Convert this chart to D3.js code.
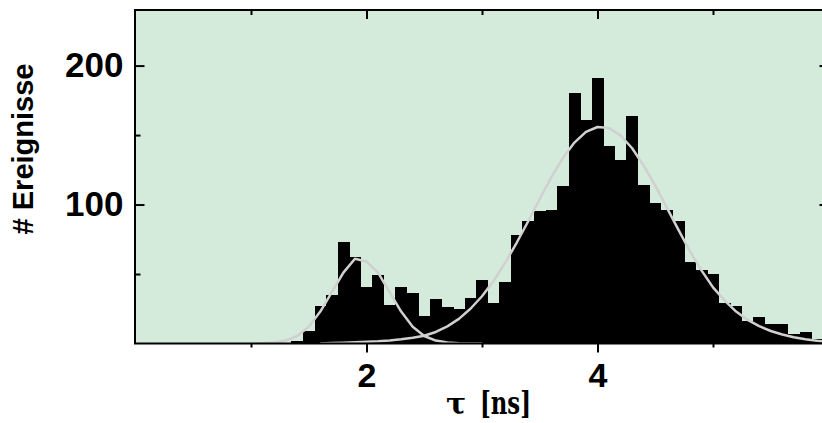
<!DOCTYPE html>
<html>
<head>
<meta charset="utf-8">
<script src="https://cdn.jsdelivr.net/npm/d3@7"></script>
<style>
  body { margin: 0; background: #fff; }
  svg { display: block; }
</style>
</head>
<body>
<script>
var width = 822,
    height = 423;

// histogram: bin centres (ns) and counts
var binCenters = [1.4, 1.5, 1.6, 1.7, 1.8, 1.9, 2.0, 2.1, 2.2, 2.3, 2.4, 2.5, 2.6, 2.7, 2.8, 2.9,
                  3.0, 3.1, 3.2, 3.3, 3.4, 3.5, 3.6, 3.7, 3.8, 3.9, 4.0, 4.1, 4.2, 4.3, 4.4, 4.5,
                  4.6, 4.7, 4.8, 4.9, 5.0, 5.1, 5.2, 5.3, 5.4, 5.5, 5.6, 5.7, 5.8, 5.9];
var counts = [2, 9, 27, 35, 73, 62, 41, 49, 28, 41, 36, 20, 32, 26, 25, 33,
              46, 29, 44, 78, 88, 95, 96, 113, 180, 161, 191, 142, 132, 164, 114, 101,
              96, 88, 59, 53, 50, 29, 27, 16, 19, 14, 14, 7, 8, 3];
var binWidth = 0.1;

// fit curves
var fit1X = [1.0, 1.1, 1.2, 1.3, 1.4, 1.5, 1.6, 1.7, 1.8, 1.9, 2.0, 2.1, 2.2, 2.3, 2.4, 2.5, 2.6, 2.7, 2.8, 2.9, 3.0];
var fit1Y = [0, 0.2, 0.7, 2.1, 5.4, 12, 23, 37, 51, 61, 59, 51, 37, 23, 12, 5.4, 2.1, 0.7, 0.2, 0, 0];
var fit2X = [1.6, 1.7, 1.8, 1.9, 2.0, 2.1, 2.2, 2.3, 2.4, 2.5, 2.6, 2.7, 2.8, 2.9, 3.0, 3.1, 3.2, 3.3,
             3.4, 3.5, 3.6, 3.7, 3.8, 3.9, 4.0, 4.1, 4.2, 4.3, 4.4, 4.5, 4.6, 4.7, 4.8, 4.9, 5.0,
             5.1, 5.2, 5.3, 5.4, 5.5, 5.6, 5.7, 5.8, 5.9, 6.0];
var fit2Y = [0, 0.3, 0.6, 0.9, 1.2, 1.6, 2.2, 3.0, 4.1, 5.6, 8.3, 12.3, 17.7, 25, 34, 45, 58, 72.5,
             88, 104, 119.6, 133.4, 144.6, 152.3, 155.8, 155, 149.7, 140.5, 128, 113.6, 97.8, 82, 66.5, 52.6, 40.4,
             31, 23, 17, 12.5, 9, 6.5, 4.5, 3, 2, 1.3];

var xTicksMajor = [2, 4], xTicksMinor = [1, 3, 5];
var yTicksMajor = [100, 200], yTicksMinor = [50, 150];

var plotLeft = 135.5, plotRight = 828.5, plotTop = 10, plotBottom = 343.5;

var x = d3.scaleLinear().domain([0, 6]).range([plotLeft, plotRight]);
var y = d3.scaleLinear().domain([0, 240]).range([plotBottom, plotTop]);

var svg = d3.select("body").append("svg")
    .attr("width", width)
    .attr("height", height);

svg.append("defs").append("clipPath").attr("id", "plotclip")
  .append("rect")
    .attr("x", plotLeft).attr("y", plotTop)
    .attr("width", plotRight - plotLeft).attr("height", plotBottom - plotTop);

svg.append("rect")
    .attr("x", plotLeft).attr("y", plotTop)
    .attr("width", plotRight - plotLeft).attr("height", plotBottom - plotTop)
    .style("fill", "#d4ebdb");

var bins = binCenters.map(function (c, i) { return {c: c, n: counts[i]}; });

svg.append("g").attr("clip-path", "url(#plotclip)")
  .selectAll("rect").data(bins)
  .enter().append("rect")
    .attr("x", function (d) { return x(d.c - binWidth / 2); })
    .attr("width", function (d) { return x(d.c + binWidth / 2) - x(d.c - binWidth / 2) + 0.4; })
    .attr("y", function (d) { return y(d.n); })
    .attr("height", function (d) { return y(0) - y(d.n); })
    .attr("shape-rendering", "crispEdges")
    .style("fill", "#000");

var line = d3.line()
    .x(function (d) { return x(d[0]); })
    .y(function (d) { return y(d[1]); });

var curves = [d3.zip(fit1X, fit1Y), d3.zip(fit2X, fit2Y)];
svg.append("g").attr("clip-path", "url(#plotclip)")
  .selectAll("path").data(curves)
  .enter().append("path")
    .attr("d", line)
    .style("fill", "none")
    .style("stroke", "#d0d0d0")
    .style("stroke-width", 2.5)
    .style("stroke-linejoin", "round");

// axes
function styleAxis(g) {
  g.select(".domain").remove();
  g.selectAll(".tick line").style("stroke", "#000").style("stroke-width", 2);
  g.selectAll("text")
    .style("font-family", "'Liberation Sans', Arial, sans-serif")
    .style("font-weight", "bold")
    .style("fill", "#000");
}

svg.append("g").attr("transform", "translate(0," + plotBottom + ")")
  .call(d3.axisBottom(x).tickValues(xTicksMajor).tickSize(9).tickPadding(10).tickFormat(d3.format("d")))
  .call(styleAxis)
  .selectAll("text").style("font-size", "34px");
svg.append("g").attr("transform", "translate(0," + plotBottom + ")")
  .call(d3.axisBottom(x).tickValues(xTicksMinor).tickSize(4).tickFormat(""))
  .call(styleAxis);
svg.append("g").attr("transform", "translate(0," + plotTop + ")")
  .call(d3.axisTop(x).tickValues(xTicksMajor).tickSize(-9).tickFormat(""))
  .call(styleAxis);
svg.append("g").attr("transform", "translate(0," + plotTop + ")")
  .call(d3.axisTop(x).tickValues(xTicksMinor).tickSize(-5).tickFormat(""))
  .call(styleAxis);

svg.append("g").attr("transform", "translate(" + plotLeft + ",0)")
  .call(d3.axisLeft(y).tickValues(yTicksMajor).tickSize(-9).tickPadding(12).tickFormat(d3.format("d")))
  .call(styleAxis)
  .selectAll("text").style("font-size", "35px");
svg.append("g").attr("transform", "translate(" + plotLeft + ",0)")
  .call(d3.axisLeft(y).tickValues(yTicksMinor).tickSize(-5).tickFormat(""))
  .call(styleAxis);
svg.append("g").attr("transform", "translate(" + plotRight + ",0)")
  .call(d3.axisRight(y).tickValues(yTicksMajor).tickSize(-9).tickFormat(""))
  .call(styleAxis);
svg.append("g").attr("transform", "translate(" + plotRight + ",0)")
  .call(d3.axisRight(y).tickValues(yTicksMinor).tickSize(-5).tickFormat(""))
  .call(styleAxis);

// frame
svg.append("rect")
    .attr("x", plotLeft - 0.5).attr("y", plotTop)
    .attr("width", plotRight - plotLeft + 0.5).attr("height", plotBottom - plotTop)
    .style("fill", "none")
    .style("stroke", "#000")
    .style("stroke-width", 2);

// axis titles
svg.append("text")
    .attr("transform", "translate(33,149) rotate(-90)")
    .attr("text-anchor", "middle")
    .style("font-family", "'Liberation Sans', Arial, sans-serif")
    .style("font-weight", "bold")
    .style("font-size", "29px")
    .text("# Ereignisse");

svg.append("text")
    .attr("x", 456).attr("y", 414)
    .attr("text-anchor", "middle")
    .style("font-family", "'DejaVu Serif', serif")
    .style("font-weight", "bold")
    .style("font-size", "30px")
    .text("τ");
svg.append("text")
    .attr("x", 480).attr("y", 414)
    .attr("textLength", 51)
    .attr("lengthAdjust", "spacingAndGlyphs")
    .style("font-family", "'DejaVu Serif', serif")
    .style("font-weight", "bold")
    .style("font-size", "31px")
    .text("[ns]");
</script>
</body>
</html>
